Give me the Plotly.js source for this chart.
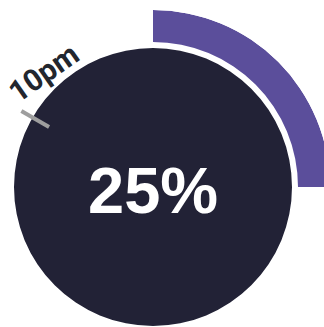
<!DOCTYPE html>
<html>
<head>
<meta charset="utf-8">
<script src="https://cdn.plot.ly/plotly-3.0.1.min.js"></script>
<style>
  html, body { margin: 0; padding: 0; width: 324px; height: 327px; overflow: hidden; background: #ffffff; }
  #chart { position: absolute; left: -24px; top: 10px; width: 354px; height: 354px; }
</style>
</head>
<body>
<div id="chart"></div>
<script>
// ---- data ----
const progressPct = [25];          // share of the day elapsed
const markerHours = [10];          // clock position of the marker (12-hour dial)
const markerLabels = ['10pm'];

// ---- derived (through polar scale) ----
const progressSpan = progressPct.map(p => p / 100 * 360);
const markerTheta = markerHours.map(h => h / 12 * 360);

const R_MAX = 177;        // radial range (pixel-equivalent)
const DISC_R = 139;
const ARC_IN = 145, ARC_OUT = 177;
const TICK_IN = 120, TICK_OUT = 152;

const traces = [
  {
    type: 'barpolar',
    theta: [180], width: [360], base: [0], r: [DISC_R],
    marker: { color: '#222236', line: { width: 0 } },
    hoverinfo: 'skip', showlegend: false
  },
  {
    type: 'barpolar',
    theta: progressSpan.map(s => s / 2), width: progressSpan,
    base: [ARC_IN], r: [ARC_OUT - ARC_IN],
    marker: { color: '#5b4e9b', line: { width: 0 } },
    hoverinfo: 'skip', showlegend: false
  },
  {
    type: 'scatterpolar', mode: 'lines',
    r: [TICK_IN, TICK_OUT], theta: [markerTheta[0], markerTheta[0]],
    line: { color: '#9e9e9e', width: 4 },
    hoverinfo: 'skip', showlegend: false
  }
];

// label placement along the dial
const labTheta = (markerTheta[0] + 16.3) * Math.PI / 180;
const labR = 158;
const labX = 0.5 + labR * Math.sin(labTheta) / (2 * R_MAX);
const labY = 0.5 + labR * Math.cos(labTheta) / (2 * R_MAX);

const layout = {
  width: 354, height: 354,
  margin: { l: 0, r: 0, t: 0, b: 0, pad: 0 },
  paper_bgcolor: 'rgba(0,0,0,0)',
  plot_bgcolor: 'rgba(0,0,0,0)',
  showlegend: false,
  polar: {
    domain: { x: [0, 1], y: [0, 1] },
    bgcolor: 'rgba(0,0,0,0)',
    barmode: 'overlay',
    radialaxis: { range: [0, R_MAX], visible: false, showgrid: false, showline: false, showticklabels: false, ticks: '' },
    angularaxis: { direction: 'clockwise', rotation: 90, showgrid: false, showline: false, showticklabels: false, ticks: '' }
  },
  annotations: [
    {
      xref: 'paper', yref: 'paper', x: 0.5, y: 0.5 - 3 / 354,
      text: progressPct[0] + '%', showarrow: false,
      font: { family: 'Liberation Sans, Arial, sans-serif', size: 65, color: '#ffffff', weight: 'bold' },
      xanchor: 'center', yanchor: 'middle'
    },
    {
      xref: 'paper', yref: 'paper', x: labX, y: labY,
      text: markerLabels[0], showarrow: false, textangle: -35,
      font: { family: 'Roboto, sans-serif', size: 30, color: '#22262e', weight: 'bold' },
      xanchor: 'center', yanchor: 'middle'
    }
  ]
};

Plotly.newPlot('chart', traces, layout, { displayModeBar: false, staticPlot: true });
</script>
</body>
</html>
